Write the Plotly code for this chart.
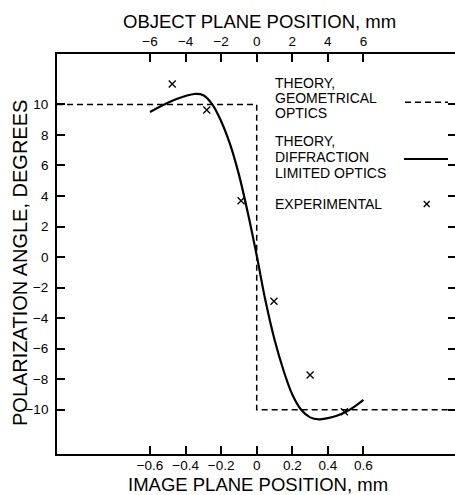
import plotly.graph_objects as go

# ---- data ----
image_ticks = [-0.6, -0.4, -0.2, 0, 0.2, 0.4, 0.6]
image_tick_text = ["−0.6", "−0.4", "−0.2", "0", "0.2", "0.4", "0.6"]
object_ticks = [-6, -4, -2, 0, 2, 4, 6]
object_tick_text = ["−6", "−4", "−2", "0", "2", "4", "6"]
angle_ticks = [10, 8, 6, 4, 2, 0, -2, -4, -6, -8, -10]
angle_tick_text = ["10", "8", "6", "4", "2", "0", "−2", "−4", "−6", "−8", "−10"]

# geometrical optics (step)
geo_x = [-1.123, 0, 0, 1.115]
geo_y = [10, 10, -10, -10]

# diffraction limited optics
diff_x = [-0.6, -0.5, -0.45, -0.4, -0.35, -0.3, -0.25, -0.2, -0.15, -0.1, -0.05, 0,
          0.05, 0.1, 0.15, 0.2, 0.25, 0.3, 0.35, 0.4, 0.45, 0.5, 0.55, 0.6]
diff_y = [9.5, 10.1, 10.35, 10.55, 10.68, 10.6, 10.0, 8.9, 7.4, 5.4, 2.9, 0.1,
          -2.9, -5.4, -7.4, -9.0, -10.0, -10.5, -10.63, -10.55, -10.4, -10.15, -9.8, -9.36]

# experimental
exp_x = [-0.475, -0.281, -0.088, 0.097, 0.30, 0.493]
exp_y = [11.33, 9.63, 3.69, -2.9, -7.73, -10.13]

XR = [-1.123, 1.115]
YR = [-12.9, 13.3]

W, H = 455, 495
L, R, T, B = 57, 0, 54, 41
PW, PH = W - L - R, H - T - B

def px(x):
    return (x - L) / PW

def py(y):
    return (H - B - y) / PH

FONT = "Liberation Sans"

fig = go.Figure()
fig.add_trace(go.Scatter(x=geo_x, y=geo_y, mode="lines",
                         line=dict(color="black", width=1.5, dash="6px,4px"),
                         showlegend=False, hoverinfo="skip"))
fig.add_trace(go.Scatter(x=diff_x, y=diff_y, mode="lines", line_shape="spline",
                         line=dict(color="black", width=2.2),
                         showlegend=False, hoverinfo="skip"))
fig.add_trace(go.Scatter(x=exp_x, y=exp_y, mode="markers",
                         marker=dict(symbol="x-thin", size=7, line=dict(color="black", width=1.3)),
                         showlegend=False, hoverinfo="skip"))
# dummy traces to activate secondary axes
fig.add_trace(go.Scatter(x=[None], y=[None], xaxis="x2", yaxis="y", showlegend=False))
fig.add_trace(go.Scatter(x=[None], y=[None], xaxis="x", yaxis="y2", showlegend=False))

tickfont = dict(family=FONT, size=13.5, color="black")
fig.update_layout(
    width=W, height=H,
    margin=dict(l=L, r=R, t=T, b=B, pad=0),
    paper_bgcolor="white", plot_bgcolor="white",
    showlegend=False,
    xaxis=dict(range=XR, tickvals=image_ticks, ticktext=image_tick_text,
               ticks="inside", ticklen=8, tickwidth=1.5, tickcolor="black",
               showline=True, linecolor="black", linewidth=1.8, showgrid=False,
               zeroline=False, tickfont=tickfont, ticklabelstandoff=-2),
    xaxis2=dict(range=[XR[0] * 10, XR[1] * 10], overlaying="x", side="top",
                tickvals=object_ticks, ticktext=object_tick_text,
                ticks="inside", ticklen=8, tickwidth=1.5, tickcolor="black",
                showline=True, linecolor="black", linewidth=1.8, showgrid=False,
                zeroline=False, tickfont=tickfont, ticklabelstandoff=1),
    yaxis=dict(range=YR, tickvals=angle_ticks, ticktext=angle_tick_text,
               ticks="inside", ticklen=8, tickwidth=1.5, tickcolor="black",
               showline=True, linecolor="black", linewidth=1.8, showgrid=False,
               zeroline=False, tickfont=tickfont, ticklabelstandoff=4),
    yaxis2=dict(range=YR, overlaying="y", side="right", tickvals=angle_ticks,
                showticklabels=False, ticks="inside", ticklen=7, tickwidth=1.5,
                tickcolor="black", showline=False, showgrid=False, zeroline=False),
)

titlefont = dict(family=FONT, size=18.5, color="black")
ann = [
    dict(text="OBJECT PLANE POSITION, mm", x=px(259), y=py(22), font=titlefont),
    dict(text="IMAGE PLANE POSITION, mm", x=px(258), y=py(484.3), font=titlefont),
    dict(text="POLARIZATION ANGLE, DEGREES", x=px(20), y=py(263),
         font=dict(family=FONT, size=20, color="black"), textangle=-90),
]
legfont = dict(family=FONT, size=14, color="black")
for t, yy in [("THEORY,", 82.8), ("GEOMETRICAL", 98.3), ("OPTICS", 113),
              ("THEORY,", 141.3), ("DIFFRACTION", 157), ("LIMITED OPTICS", 173),
              ("EXPERIMENTAL", 203.5)]:
    ann.append(dict(text=t, x=px(272.5), y=py(yy), xanchor="left", font=legfont))
for a in ann:
    a.setdefault("xanchor", "center")
    a.update(xref="paper", yref="paper", yanchor="middle", showarrow=False)
fig.update_layout(annotations=ann)

# legend keys
fig.add_shape(type="line", xref="paper", yref="paper", x0=px(405), x1=px(448),
              y0=py(102.3), y1=py(102.3), line=dict(color="black", width=1.5, dash="6px,4px"))
fig.add_shape(type="line", xref="paper", yref="paper", x0=px(404), x1=px(448),
              y0=py(159), y1=py(159), line=dict(color="black", width=2.2))
for dx0, dy0, dx1, dy1 in [(-3, -3, 3, 3), (-3, 3, 3, -3)]:
    fig.add_shape(type="line", xref="paper", yref="paper",
                  x0=px(426.7 + dx0), y0=py(204 + dy0), x1=px(426.7 + dx1), y1=py(204 + dy1),
                  line=dict(color="black", width=1.3))

fig.write_html("out.html")
